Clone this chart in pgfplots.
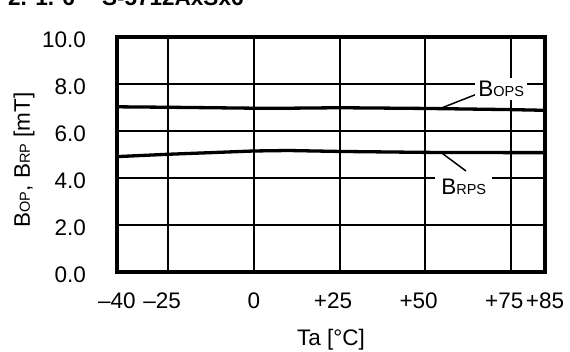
\documentclass[border=0pt]{standalone}
\usepackage{fontspec}
\setmainfont{Liberation Sans}
\usepackage{pgfplots}
\pgfplotsset{compat=1.18}
\newcommand{\sub}[1]{{\fontsize{14.5}{15}\selectfont #1}}
\begin{document}
\fontsize{22.5}{26}\selectfont
\begin{tikzpicture}
\useasboundingbox (-117pt,-79pt) rectangle (453pt,272pt);
\node[anchor=base west, inner sep=0pt, font=\bfseries] at (-109pt,266pt) {2. 1. 6};
\node[anchor=base west, inner sep=0pt, font=\bfseries] at (-15pt,266pt) {S-5712AxSx6};
\begin{axis}[
  at={(0,0)}, anchor=south west,
  width=428pt, height=235pt, scale only axis,
  xmin=-40, xmax=85, ymin=0, ymax=10,
  xtick={-40,-25,0,25,50,75,85},
  xticklabels={–40, \llap{–}25, 0, \llap{+}25, \llap{+}50, \llap{+}75, +85},
  ytick={0,2,4,6,8,10},
  yticklabels={0.0,2.0,4.0,6.0,8.0,10.0},
  grid=major,
  major grid style={black, line width=2pt},
  axis line style={line width=3.5pt, line cap=rect},
  major tick length=0pt,
  xticklabel style={anchor=north, inner sep=0pt, yshift=-21pt},
  yticklabel style={anchor=east, inner sep=0pt, xshift=-31pt, yshift=-2.5pt},
  ylabel={B\sub{OP}, B\sub{RP} [mT]},
  ylabel style={at={(axis description cs:-0.192,0.477)}, anchor=south, inner sep=0pt},
  xlabel={Ta [°C]},
  xlabel style={at={(axis description cs:0.5,-0.332)}, anchor=south, inner sep=0pt},
]
\addplot[black, line width=3.3pt] coordinates {(-40,7.03) (-25,7.01) (0,6.97) (10,6.97) (25,6.99) (50,6.96) (75,6.91) (85,6.88)};
\addplot[black, line width=3.3pt] coordinates {(-40,4.91) (-25,5.01) (0,5.15) (10,5.17) (25,5.13) (50,5.09) (75,5.08) (85,5.08)};
\draw[line width=1.5pt] (axis cs:54.6,6.97) -- (axis cs:65.1,7.57);
\draw[line width=1.5pt] (axis cs:54.6,5.09) -- (axis cs:61.9,4.30);
\node[fill=white, anchor=base west, inner xsep=3pt, inner ysep=3pt] at (axis cs:64.6,7.46) {B\sub{OPS}};
\node[fill=white, anchor=base west, inner xsep=6pt, inner ysep=3pt] at (axis cs:52.9,3.28) {B\sub{RPS}};
\node[anchor=base east, inner sep=0pt] at (axis description cs:0.974,1.038) {V\sub{DD} = 1.85 V};
\end{axis}
\end{tikzpicture}
\end{document}
